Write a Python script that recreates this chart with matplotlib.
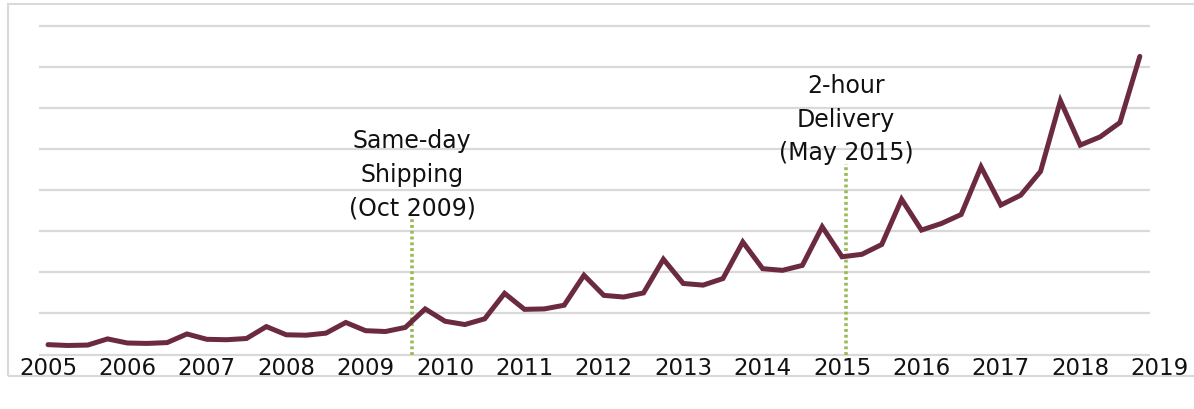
import matplotlib
matplotlib.use("Agg")
import matplotlib.pyplot as plt
import matplotlib.transforms as mtransforms
from matplotlib.patches import Rectangle
import numpy as np

# quarterly values, 2005 Q1 .. 2018 Q4 (gridline step = 10)
values = [
    2.4, 2.2, 2.3, 3.8,
    2.8, 2.7, 2.9, 5.0,
    3.7, 3.6, 3.9, 6.8,
    4.8, 4.7, 5.2, 7.8,
    5.8, 5.6, 6.6, 11.1,
    8.1, 7.3, 8.7, 14.9,
    11.0, 11.1, 12.0, 19.3,
    14.4, 14.0, 15.0, 23.2,
    17.3, 16.9, 18.5, 27.4,
    20.9, 20.5, 21.7, 31.1,
    23.8, 24.4, 26.8, 37.8,
    30.3, 31.9, 34.1, 45.7,
    36.4, 38.8, 44.6, 61.8,
    51.0, 53.0, 56.5, 72.6,
]
years = list(range(2005, 2020))
grid_levels = [0, 10, 20, 30, 40, 50, 60, 70, 80]

events = ["Same-day\nShipping\n(Oct 2009)", "2-hour\nDelivery\n(May 2015)"]
event_x = [2009.585, 2015.05]
event_top = [33.5, 46.4]
event_label_y = [44.0, 57.4]

x = 2005 + np.arange(len(values)) / 4.0

fig = plt.figure(figsize=(11.94, 4.10), dpi=100)
ax = fig.add_axes([0.0327, 0.1229, 0.9305, 0.8212])

# outer light frame
fig.patches.append(Rectangle((8 / 1194, 1 - 377 / 410), 1.2, (377 - 5) / 410,
                             transform=fig.transFigure, fill=False,
                             edgecolor="#d9d9d9", linewidth=1.5))

for g in grid_levels:
    ax.axhline(g, color="#d9d9d9", linewidth=1.6, zorder=1)

for ex, top in zip(event_x, event_top):
    ax.plot([ex, ex], [0, top], color="#9bbb59", linewidth=2.6,
            linestyle=(0, (0.8, 0.8)), zorder=2)

ax.plot(x, values, color="#6b2a3f", linewidth=3.6, solid_joinstyle="miter",
        solid_capstyle="round", zorder=3)

for txt, ex, ey in zip(events, event_x, event_label_y):
    ax.text(ex, ey, txt, ha="center", va="center", fontsize=17,
            linespacing=1.5, color="#111111", zorder=4)

ax.set_xlim(2004.887, 2018.879)
ax.set_ylim(-1, 81)
ax.set_xticks([])
ax.set_yticks([])
for s in ax.spines.values():
    s.set_visible(False)

trans = mtransforms.blended_transform_factory(ax.transData, fig.transFigure)
for yr in years:
    ax.text(yr, 1 - 369 / 410, str(yr), transform=trans, ha="center",
            va="center", fontsize=16.5, color="#111111", clip_on=False)

fig.savefig("out.png", dpi=100)
